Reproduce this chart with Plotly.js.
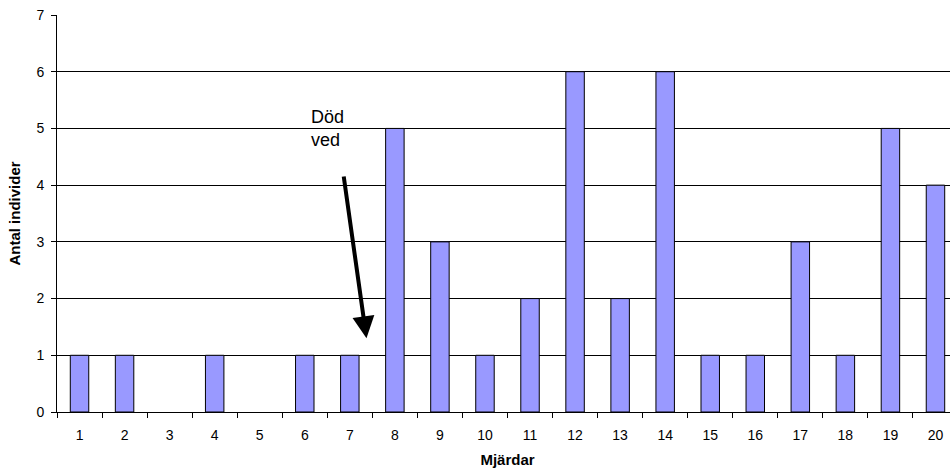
<!DOCTYPE html>
<html>
<head>
<meta charset="utf-8">
<script src="https://cdn.plot.ly/plotly-3.0.1.min.js"></script>
<style>
  html, body { margin: 0; padding: 0; overflow: hidden; background: #fff; }
  #chart { width: 960px; height: 472px; }
</style>
</head>
<body>
<div id="chart"></div>
<script>
// Trap labels (Mjärdar) and number of individuals caught in each
const traps = ["1","2","3","4","5","6","7","8","9","10","11","12","13","14","15","16","17","18","19","20"];
const counts = [1, 1, 0, 1, 0, 1, 1, 5, 3, 1, 2, 6, 2, 6, 1, 1, 3, 1, 5, 4];
const yTicks = [0, 1, 2, 3, 4, 5, 6, 7];

const FONT = "Arial, 'Liberation Sans', sans-serif";

const trace = {
  type: "bar",
  x: traps,
  y: counts,
  width: 0.41,
  marker: {
    color: "#9999FF",
    // empty traps get no outline so nothing sits on the baseline
    line: { color: "#000000", width: counts.map(v => (v > 0 ? 1 : 0)) }
  },
  hoverinfo: "x+y"
};

const layout = {
  width: 960,
  height: 472,
  margin: { l: 57, r: 2, t: 15, b: 60 },
  paper_bgcolor: "#ffffff",
  plot_bgcolor: "#ffffff",
  showlegend: false,
  font: { family: FONT, size: 14, color: "#000" },
  xaxis: {
    type: "category",
    categoryorder: "array",
    categoryarray: traps,
    range: [-0.5, traps.length - 0.5],
    tickson: "boundaries",
    ticks: "outside",
    ticklen: 5,
    tickcolor: "#000",
    showgrid: false,
    showline: true,
    linecolor: "#000",
    linewidth: 1,
    zeroline: false,
    ticklabelstandoff: 10,
    tickfont: { family: FONT, size: 14, color: "#000" },
    title: { text: "<b>Mjärdar</b>", font: { family: FONT, size: 15, color: "#000" }, standoff: 12 }
  },
  yaxis: {
    range: [0, 7],
    tickmode: "array",
    tickvals: yTicks,
    ticktext: yTicks.map(String),
    ticks: "outside",
    ticklen: 5,
    tickcolor: "#000",
    showgrid: true,
    gridcolor: "#000",
    gridwidth: 1,
    showline: true,
    linecolor: "#000",
    linewidth: 1,
    zeroline: false,
    ticklabelstandoff: 4,
    tickfont: { family: FONT, size: 14, color: "#000" },
    title: { text: "<b>Antal individer</b>", font: { family: FONT, size: 15, color: "#000" }, standoff: 12 }
  },
  annotations: [
    {
      x: 6.37, y: 1.3, xref: "x", yref: "y",
      ax: 5.86, ay: 4.18, axref: "x", ayref: "y",
      showarrow: true, arrowhead: 2, arrowsize: 1.1, arrowwidth: 4, arrowcolor: "#000",
      text: ""
    },
    {
      x: 5.1, y: 5.0, xref: "x", yref: "y",
      xanchor: "left", yanchor: "middle", align: "left",
      showarrow: false,
      text: "Död<br>ved",
      font: { family: FONT, size: 18, color: "#000" }
    }
  ]
};

Plotly.newPlot("chart", [trace], layout, { displayModeBar: false, staticPlot: true });
</script>
</body>
</html>
